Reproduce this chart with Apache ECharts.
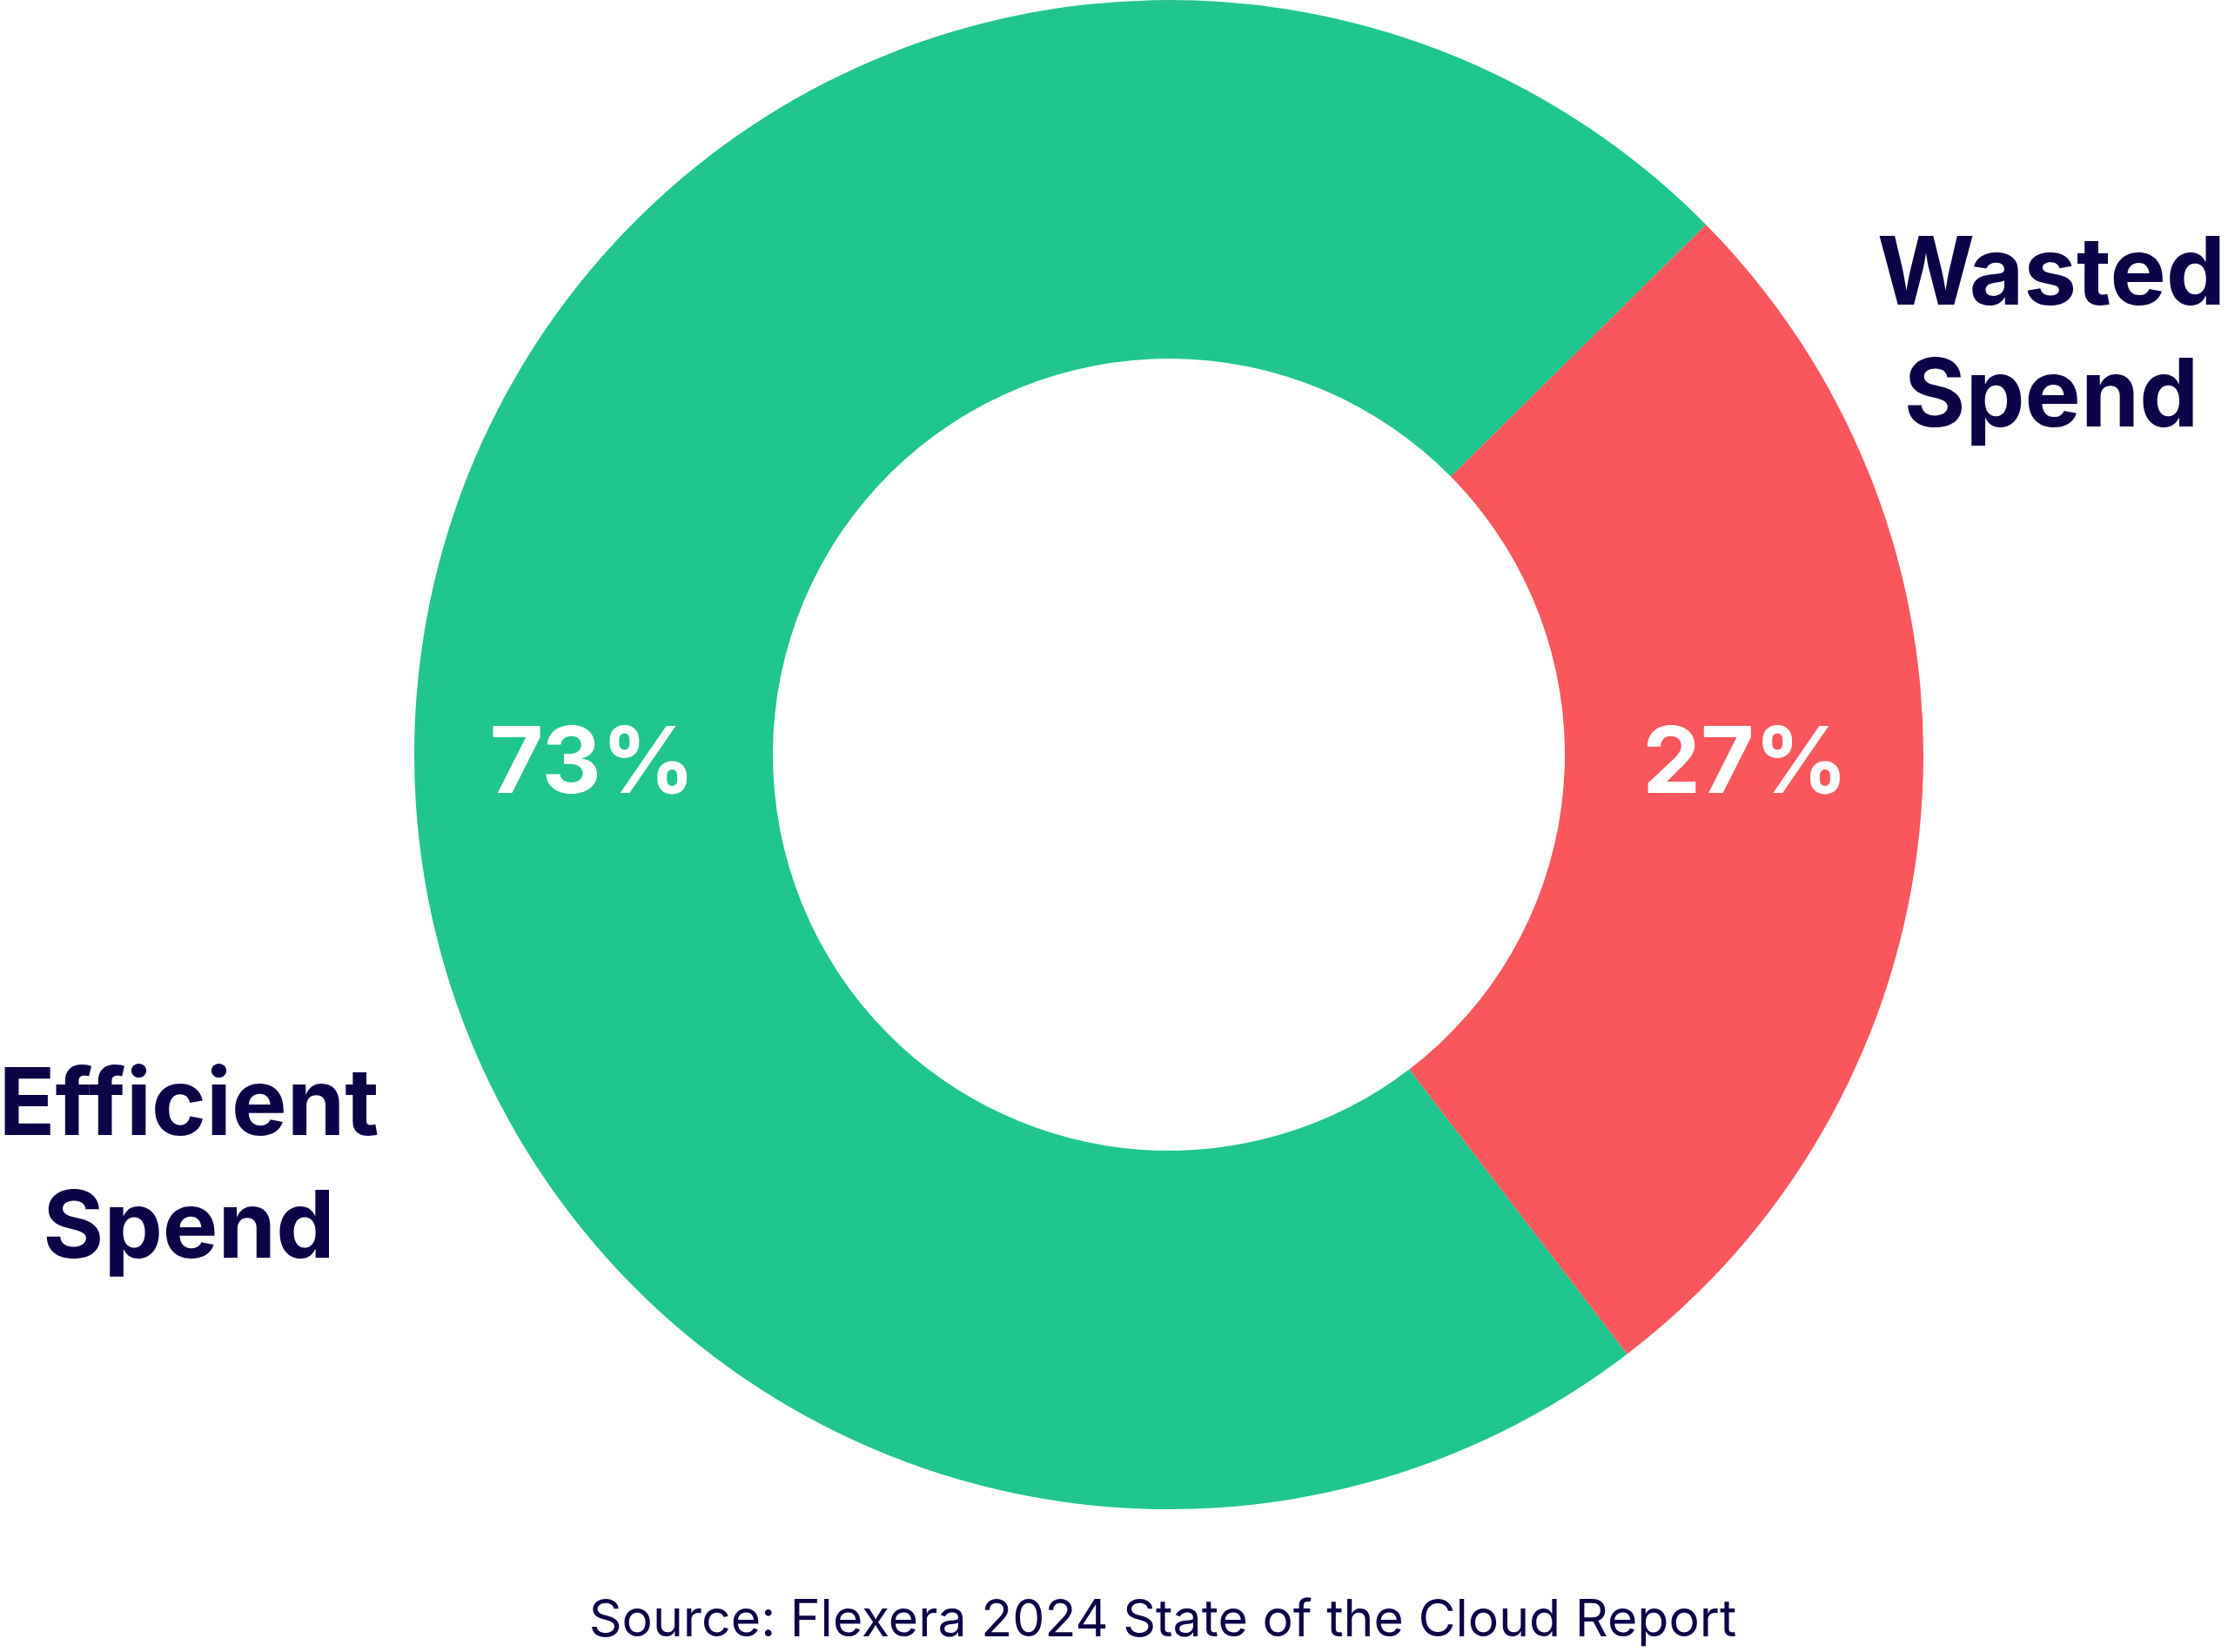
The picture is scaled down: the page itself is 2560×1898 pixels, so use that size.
<!DOCTYPE html>
<html>
<head>
<meta charset="utf-8">
<script src="https://cdn.jsdelivr.net/npm/echarts@6/dist/echarts.min.js"></script>
<style>
html,body{margin:0;padding:0;background:#ffffff;}
#chart{width:2560px;height:1898px;}
</style>
</head>
<body>
<div id="chart"></div>
<script>
var categories = ["Efficient Spend", "Wasted Spend"];
var shares = [73, 27];
var sliceColors = ["#20C58F", "#F9575B"];
var sourceNote = "Source: Flexera 2024 State of the Cloud Report";

var CX = 1343, CY = 867;
var NAVY = "#0B0548";

var chart = echarts.init(document.getElementById('chart'), null, {renderer: 'canvas'});

var pieData = categories.map(function (c, i) {
  return { name: c, value: shares[i], itemStyle: { color: sliceColors[i] } };
});

function splitName(n) { return n.replace(' ', '\n'); }

chart.setOption({
  backgroundColor: '#ffffff',
  animation: false,
  series: [{
    type: 'pie',
    center: [CX, CY],
    radius: [455, 867],
    startAngle: -52.6,
    clockwise: true,
    avoidLabelOverlap: false,
    itemStyle: { borderWidth: 0 },
    label: {
      show: true,
      position: 'inside',
      formatter: '{c}%',
      color: '#ffffff',
      fontFamily: 'Inter',
      fontWeight: 700,
      fontSize: 106
    },
    labelLine: { show: false },
    labelLayout: function (p) {
      return { dy: (CY + 12) - (p.labelRect.y + p.labelRect.height / 2) };
    },
    emphasis: { disabled: true },
    data: pieData
  }],
  graphic: [
    {
      type: 'text',
      style: {
        text: splitName(categories[1]),
        x: 2357, y: 388,
        textAlign: 'center',
        textVerticalAlign: 'middle',
        fill: NAVY,
        font: '700 108px Inter',
        lineHeight: 140
      }
    },
    {
      type: 'text',
      style: {
        text: splitName(categories[0]),
        x: 217, y: 1342,
        textAlign: 'center',
        textVerticalAlign: 'middle',
        fill: NAVY,
        font: '700 107px Inter',
        lineHeight: 141
      }
    },
    {
      type: 'text',
      style: {
        text: sourceNote,
        x: 1336, y: 1862,
        textAlign: 'center',
        textVerticalAlign: 'middle',
        fill: NAVY,
        font: '400 59px Inter'
      }
    }
  ]
});
</script>
</body>
</html>
